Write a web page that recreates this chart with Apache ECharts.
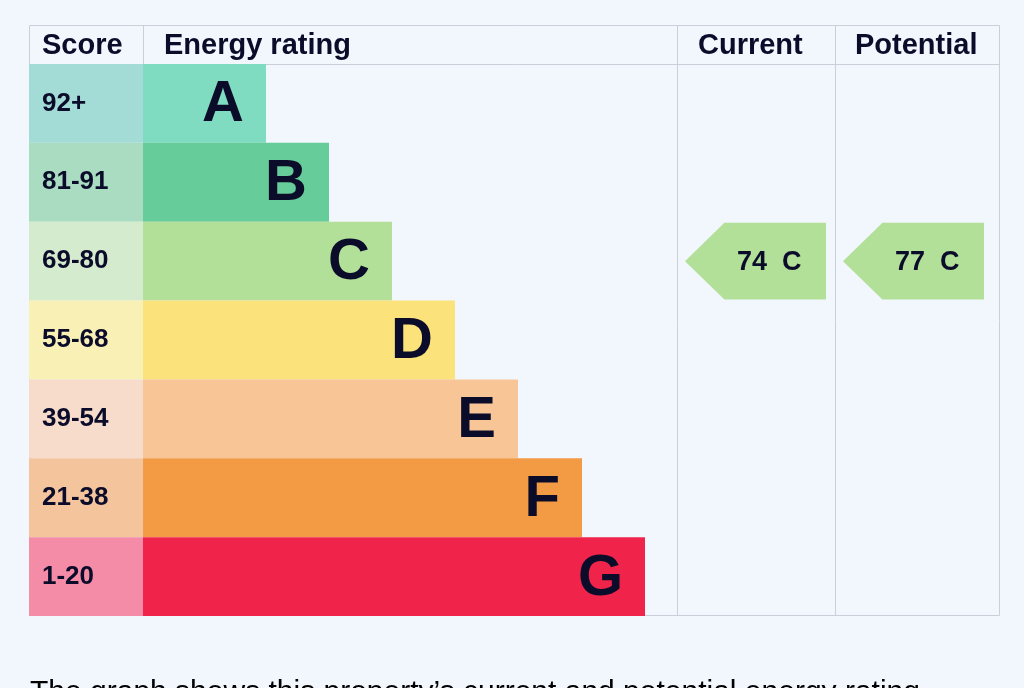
<!DOCTYPE html>
<html><head><meta charset="utf-8">
<script src="https://cdn.jsdelivr.net/npm/echarts@6/dist/echarts.min.js"></script>
<style>html,body{margin:0;background:#f2f6fd}#box{width:1024px;height:688px}</style>
</head><body><div id="box"></div>
<script>
const bands = ['A', 'B', 'C', 'D', 'E', 'F', 'G']
const scores = ['92+', '81-91', '69-80', '55-68', '39-54', '21-38', '1-20']
const scoreCell = [114, 114, 114, 114, 114, 114, 114]
const barLength = [123, 186, 249, 312, 375, 439, 502]
const scoreColors = ['#a3dcd6', '#a9dcc1', '#d4eccd', '#f8f0b5', '#f7dccb', '#f4c49d', '#f48ca8']
const barColors = ['#80dcc1', '#66cc99', '#b2e098', '#fbe27a', '#f8c597', '#f39a45', '#f0244b']
const current = { band: 'C', value: 74, start: 656, end: 797 }
const potential = { band: 'C', value: 77, start: 814, end: 955 }

const ink = '#0b0c2a'
const line = '#c9cfdb'
const fam = '"Liberation Sans", Arial, sans-serif'
const chart = echarts.init(document.getElementById('box'))

function arrow(params, api) {
  const s = api.coord([api.value(0), api.value(2)])
  const e = api.coord([api.value(1), api.value(2)])
  const h = api.size([0, 1])[1]
  const top = s[1] - h / 2 + 1, bot = s[1] + h / 2 - 1, tip = h / 2
  return {
    type: 'group',
    children: [{
      type: 'polygon',
      shape: { points: [[s[0], s[1]], [s[0] + tip, top], [e[0], top], [e[0], bot], [s[0] + tip, bot]] },
      style: { fill: '#b2e098' }
    }, {
      type: 'text',
      style: {
        text: api.value(3) + '  ' + api.value(4), x: (s[0] + tip + e[0]) / 2 - 6, y: s[1] + 1,
        align: 'center', verticalAlign: 'middle', fill: ink,
        fontSize: 27, fontWeight: 'bold', fontFamily: fam
      }
    }]
  }
}

const hdr = (text, x) => ({
  type: 'text', left: x, top: 31,
  style: { text, fill: ink, fontSize: 29, fontWeight: 'bold', fontFamily: fam }
})

chart.setOption({
  backgroundColor: '#f2f6fd',
  animation: false,
  grid: { left: 29, right: 24, top: 64, bottom: 72 },
  xAxis: { type: 'value', min: 0, max: 971, show: false },
  yAxis: { type: 'category', data: bands, inverse: true, show: false },
  series: [{
    type: 'bar', stack: 'r', barCategoryGap: '0%',
    data: scoreCell.map((v, i) => ({ value: v, itemStyle: { color: scoreColors[i] } })),
    label: {
      show: true, position: 'insideLeft', distance: 13,
      formatter: p => scores[p.dataIndex],
      color: ink, fontSize: 26, fontWeight: 'bold', fontFamily: fam
    }
  }, {
    type: 'bar', stack: 'r', barCategoryGap: '0%',
    data: barLength.map((v, i) => ({ value: v, itemStyle: { color: barColors[i] } })),
    label: {
      show: true, position: 'insideRight', distance: 22,
      formatter: p => bands[p.dataIndex],
      color: ink, fontSize: 58, fontWeight: 'bold', fontFamily: fam, offset: [0, 2]
    }
  }, {
    type: 'custom', renderItem: arrow,
    encode: { x: [0, 1], y: 2 },
    data: [current, potential].map(a => [a.start, a.end, a.band, a.value, a.band])
  }],
  graphic: [
    { type: 'rect', shape: { x: 29.5, y: 25.5, width: 970, height: 590 }, style: { fill: 'none', stroke: line, lineWidth: 1 } },
    { type: 'line', shape: { x1: 29, y1: 64.5, x2: 1000, y2: 64.5 }, style: { stroke: line } },
    { type: 'line', shape: { x1: 143.5, y1: 25, x2: 143.5, y2: 64 }, style: { stroke: line } },
    { type: 'line', shape: { x1: 677.5, y1: 25, x2: 677.5, y2: 616 }, style: { stroke: line } },
    { type: 'line', shape: { x1: 835.5, y1: 25, x2: 835.5, y2: 616 }, style: { stroke: line } },
    hdr('Score', 42),
    hdr('Energy rating', 164),
    hdr('Current', 698),
    hdr('Potential', 855),
    { type: 'text', left: 30, top: 678, style: { text: 'The graph shows this property\u2019s current and potential energy rating.', fill: '#000', fontSize: 30, fontFamily: fam } }
  ]
})
</script></body></html>
